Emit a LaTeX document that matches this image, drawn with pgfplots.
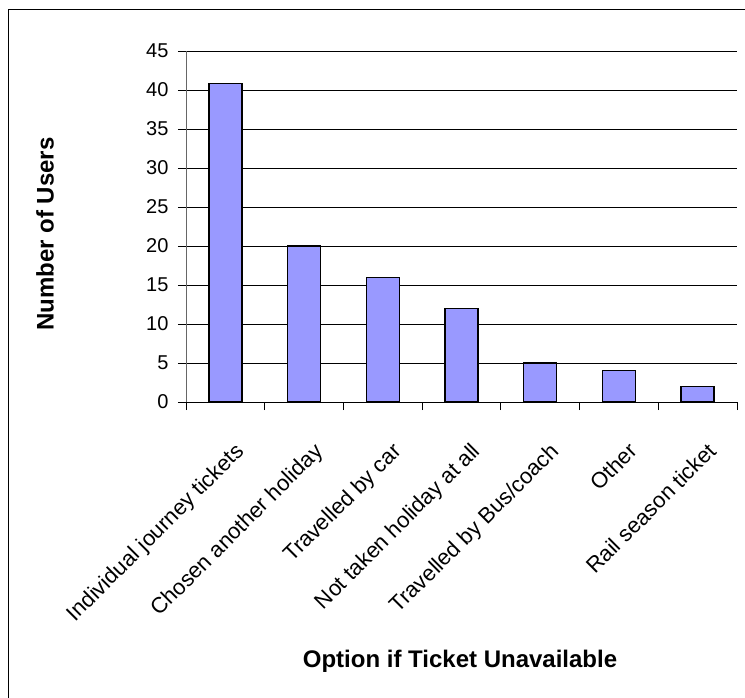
\documentclass[border=0pt]{standalone}
\usepackage{pgfplots}
\pgfplotsset{compat=1.18}
\usepackage{fontspec}
\setmainfont{Liberation Sans}
\definecolor{barblue}{HTML}{9999FF}
\begin{document}
\begin{tikzpicture}[x=1pt,y=1pt]
\useasboundingbox (0,0) rectangle (745,-698);
\fill[white] (0,0) rectangle (745,-698);
\draw[line width=1.2pt] (8.5,-698) -- (8.5,-9.5) -- (745,-9.5);
\begin{axis}[
  at={(186pt,-402pt)}, anchor=south west,
  scale only axis, width=551pt, height=351pt,
  xmin=-0.5, xmax=6.5, ymin=0, ymax=45,
  axis x line*=bottom, axis y line*=left,
  x axis line style={-, black, line width=0.9pt},
  y axis line style={-, black!60, line width=0.9pt},
  ytick={0,5,...,45},
  ymajorgrids, grid style={black, line width=0.8pt},
  tick align=outside, major tick length=8pt,
  tick style={black, line width=0.8pt},
  /pgf/number format/assume math mode=true,
  yticklabel style={font=\fontsize{20}{24}\selectfont, xshift=-6pt},
  xtick={0,...,6},
  xticklabels={Individual journey tickets, Chosen another holiday, Travelled by car, Not taken holiday at all, Travelled by Bus/coach, Other, Rail season ticket},
  xtick style={draw=none},
  xticklabel style={font=\fontsize{22}{26}\selectfont, rotate=45, anchor=north east, inner sep=0pt, xshift=-16pt, yshift=-28pt},
  extra x ticks={-0.5,0.5,1.5,2.5,3.5,4.5,5.5,6.5},
  extra x tick labels={},
  extra x tick style={xtick style={draw=black}, grid=none},
]
\addplot[ybar, bar width=33pt, fill=barblue, draw=black, line width=1.3pt]
  coordinates {(0,40.8) (1,20) (2,16) (3,12) (4,5) (5,4) (6,2)};
\end{axis}
\node[rotate=90, font=\bfseries\fontsize{24}{28}\selectfont] at (45,-234) {Number of Users};
\node[font=\bfseries\fontsize{24}{28}\selectfont] at (460,-661) {Option if Ticket Unavailable};
\end{tikzpicture}
\end{document}
